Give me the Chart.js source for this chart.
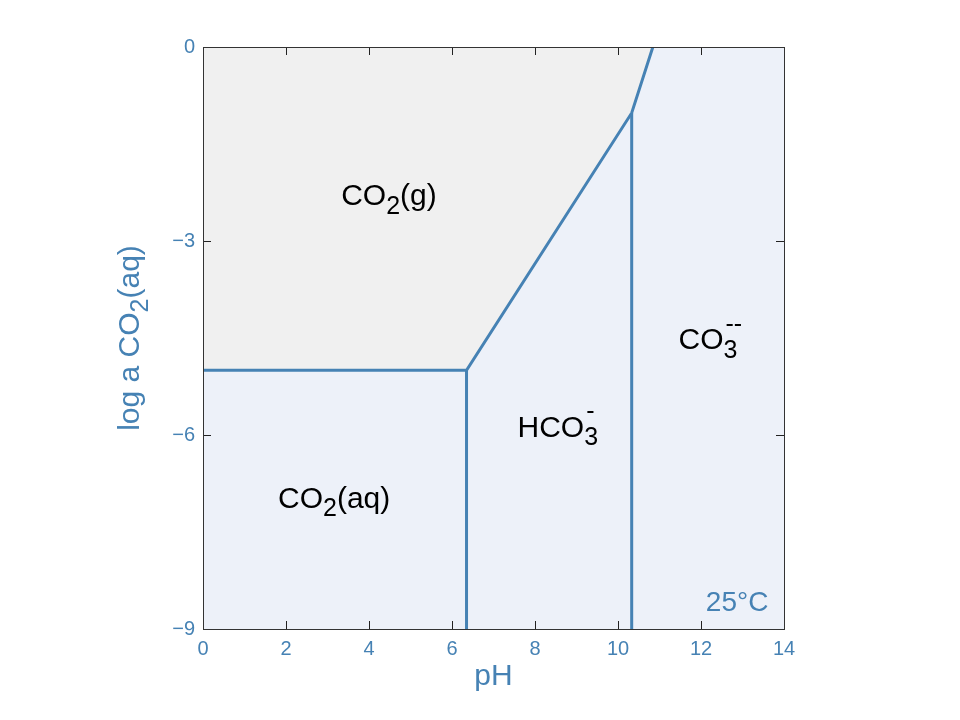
<!DOCTYPE html>
<html lang="en">
<head>
    <meta charset="UTF-8">
    <title>CO2 predominance diagram</title>
    <script src="https://cdn.jsdelivr.net/npm/chart.js"></script>
    <style>
        html, body { margin: 0; padding: 0; background: #fff; }
        #wrap { width: 960px; height: 720px; }
    </style>
</head>
<body>
<div id="wrap"><canvas id="diagram" width="960" height="720"></canvas></div>

<script>
    // boundaries (pH, log a CO2(aq))
    const gasBoundaryPH  = [0, 6.35, 10.33, 10.84];
    const gasBoundaryLog = [-5, -5, -1.02, 0];
    const aqBoundaryPH   = [6.35, 6.35];
    const aqBoundaryLog  = [-5, -9];
    const co3BoundaryPH  = [10.33, 10.33];
    const co3BoundaryLog = [-1.02, -9];

    const xTicks = [0, 2, 4, 6, 8, 10, 12, 14];
    const yTicks = [0, -3, -6, -9];

    // region labels: pieces are [text, kind], kind '' | 'sub' | 'subsup'
    const regionLabels = [
        { x: 4.48, y: -2.32, color: '#000', parts: [['CO', ''], ['2', 'sub'], ['(g)', '']] },
        { x: 3.16, y: -7.0,  color: '#000', parts: [['CO', ''], ['2', 'sub'], ['(aq)', '']] },
        { x: 8.55, y: -5.9,  color: '#000', parts: [['HCO', ''], ['3|-', 'subsup']] },
        { x: 12.2, y: -4.55, color: '#000', parts: [['CO', ''], ['3|--', 'subsup']] },
        { x: 12.87, y: -8.6, color: '#4682b4', parts: [['25°C', '']], size: 28 }
    ];

    const steel = '#4682b4';
    const fontFam = 'Arial, "Liberation Sans", Helvetica, sans-serif';

    const toPts = (xs, ys) => xs.map((x, i) => ({ x: x, y: ys[i] }));

    function chemWidth(ctx, parts, size) {
        let w = 0;
        parts.forEach(([t, kind]) => {
            if (kind === '') {
                ctx.font = size + 'px ' + fontFam;
                w += ctx.measureText(t).width;
            } else {
                ctx.font = Math.round(size * 0.82) + 'px ' + fontFam;
                const bits = t.split('|');
                w += Math.max.apply(null, bits.map(b => ctx.measureText(b).width));
            }
        });
        return w;
    }

    function drawChem(ctx, parts, cx, cy, size, color) {
        ctx.save();
        ctx.fillStyle = color;
        ctx.textBaseline = 'middle';
        ctx.textAlign = 'left';
        let x = cx - chemWidth(ctx, parts, size) / 2;
        const small = Math.round(size * 0.82);
        parts.forEach(([t, kind]) => {
            if (kind === '') {
                ctx.font = size + 'px ' + fontFam;
                ctx.fillText(t, x, cy);
                x += ctx.measureText(t).width;
            } else {
                ctx.font = small + 'px ' + fontFam;
                const bits = t.split('|');
                ctx.fillText(bits[0], x, cy + size * 0.33);
                let w = ctx.measureText(bits[0]).width;
                if (bits[1]) {
                    ctx.fillText(bits[1], x + 2, cy - size * 0.55);
                    w = Math.max(w, ctx.measureText(bits[1]).width);
                }
                x += w;
            }
        });
        ctx.restore();
    }

    const framePlugin = {
        id: 'frame',
        beforeDraw(chart) {
            const { ctx, chartArea: a } = chart;
            ctx.save();
            ctx.fillStyle = '#edf1f9';
            ctx.fillRect(a.left, a.top, a.right - a.left, a.bottom - a.top);
            ctx.restore();
        },
        afterDraw(chart) {
            const { ctx, chartArea: a, scales } = chart;
            ctx.save();
            // inward ticks
            ctx.strokeStyle = '#222';
            ctx.lineWidth = 1;
            ctx.beginPath();
            xTicks.forEach(v => {
                const px = Math.round(scales.x.getPixelForValue(v)) + 0.5;
                ctx.moveTo(px, a.bottom); ctx.lineTo(px, a.bottom - 8);
                ctx.moveTo(px, a.top); ctx.lineTo(px, a.top + 8);
            });
            yTicks.forEach(v => {
                const py = Math.round(scales.y.getPixelForValue(v)) + 0.5;
                ctx.moveTo(a.left, py); ctx.lineTo(a.left + 8, py);
                ctx.moveTo(a.right, py); ctx.lineTo(a.right - 8, py);
            });
            ctx.stroke();
            // frame
            ctx.strokeStyle = '#333';
            ctx.strokeRect(Math.round(a.left) + 0.5, Math.round(a.top) + 0.5,
                Math.round(a.right - a.left), Math.round(a.bottom - a.top));

            // region labels
            regionLabels.forEach(l => {
                drawChem(ctx, l.parts, scales.x.getPixelForValue(l.x),
                    scales.y.getPixelForValue(l.y), l.size || 30, l.color);
            });

            // y axis title, rotated
            ctx.translate(131, (a.top + a.bottom) / 2);
            ctx.rotate(-Math.PI / 2);
            drawChem(ctx, [['log a CO', ''], ['2', 'sub'], ['(aq)', '']], 0, 0, 30, steel);
            ctx.restore();
        }
    };

    const ctx = document.getElementById('diagram').getContext('2d');

    new Chart(ctx, {
        type: 'scatter',
        data: {
            datasets: [{
                label: 'CO2(g) boundary',
                data: toPts(gasBoundaryPH, gasBoundaryLog),
                showLine: true,
                borderColor: steel,
                borderWidth: 3,
                backgroundColor: '#f0f0f0',
                fill: 'end',
                pointRadius: 0
            }, {
                label: 'CO2(aq) / HCO3-',
                data: toPts(aqBoundaryPH, aqBoundaryLog),
                showLine: true,
                borderColor: steel,
                borderWidth: 3,
                pointRadius: 0
            }, {
                label: 'HCO3- / CO3--',
                data: toPts(co3BoundaryPH, co3BoundaryLog),
                showLine: true,
                borderColor: steel,
                borderWidth: 3,
                pointRadius: 0
            }]
        },
        options: {
            responsive: false,
            animation: false,
            layout: { padding: { top: 47, right: 176, left: 0, bottom: 0 } },
            plugins: {
                legend: { display: false },
                tooltip: { enabled: false }
            },
            scales: {
                x: {
                    type: 'linear',
                    min: 0, max: 14,
                    afterBuildTicks: s => { s.ticks = xTicks.map(v => ({ value: v })); },
                    afterFit: s => { s.height = 91; },
                    grid: { display: false },
                    border: { display: false },
                    ticks: { color: steel, padding: 0, font: { size: 20, family: fontFam } },
                    title: {
                        display: true, text: 'pH', color: steel,
                        font: { size: 30, family: fontFam }, padding: { top: 0, bottom: 25 }
                    }
                },
                y: {
                    type: 'linear',
                    min: -9, max: 0,
                    afterBuildTicks: s => { s.ticks = yTicks.map(v => ({ value: v })); },
                    afterFit: s => { s.width = 203; },
                    grid: { display: false },
                    border: { display: false },
                    ticks: {
                        color: steel, padding: 0, font: { size: 20, family: fontFam },
                        callback: v => String(v).replace('-', '\u2212')
                    }
                }
            }
        },
        plugins: [framePlugin]
    });
</script>
</body>
</html>
